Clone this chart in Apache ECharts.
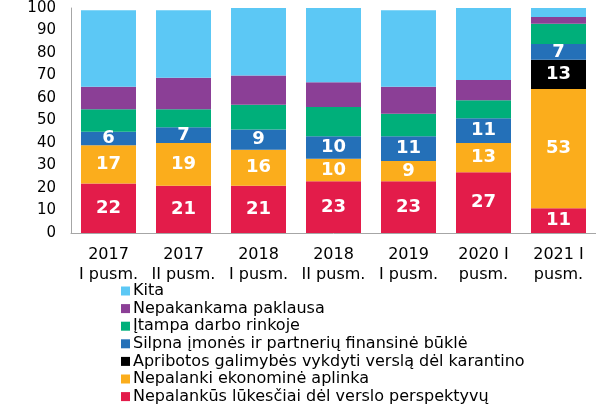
<!DOCTYPE html>
<html>
<head>
    <meta charset="UTF-8">
    <title>Veiksniai</title>
    <script src="https://cdn.jsdelivr.net/npm/echarts@6/dist/echarts.min.js"></script>
    <style>
        html, body { margin: 0; padding: 0; background: #fff; }
        #main { width: 596px; height: 408px; }
    </style>
</head>
<body>
    <div id="main"></div>
    <script type="text/javascript">
        // kategorijos (pusmečiai)
        var categories = ['2017\nI pusm.', '2017\nII pusm.', '2018\nI pusm.', '2018\nII pusm.', '2019\nI pusm.', '2020 I\npusm.', '2021 I\npusm.'];
        var yTicks = [0, 10, 20, 30, 40, 50, 60, 70, 80, 90, 100];

        // serijos nuo apačios į viršų
        var lukesciai = [22, 21, 21, 23, 23, 27, 11];
        var aplinka = [17, 19, 16, 10, 9, 13, 53];
        var karantinas = [null, null, null, null, null, null, 13];
        var bukle = [6, 7, 9, 10, 11, 11, 7];
        var itampa = [10, 8, 11, 13, 10, 8, 9];
        var paklausa = [10, 14, 13, 11, 12, 9, 3];
        var kita = [34, 30, 30, 33, 34, 32, 4];

        var names = ['Nepalankūs lūkesčiai dėl verslo perspektyvų', 'Nepalanki ekonominė aplinka', 'Apribotos galimybės vykdyti verslą dėl karantino',
            'Silpna įmonės ir partnerių finansinė būklė', 'Įtampa darbo rinkoje', 'Nepakankama paklausa', 'Kita'];
        var values = [lukesciai, aplinka, karantinas, bukle, itampa, paklausa, kita];
        var colors = ['#e31c4a', '#fbad1c', '#000000', '#2470b8', '#00af7a', '#8b3f96', '#5cc8f5'];
        var showLabel = [true, true, true, true, false, false, false];

        var series = [];
        for (var i = 0; i < names.length; i++) {
            series.push({
                name: names[i],
                type: 'bar',
                stack: 'total',
                barWidth: 55,
                data: values[i],
                itemStyle: { color: colors[i] },
                label: {
                    show: showLabel[i],
                    position: 'inside',
                    color: '#fff',
                    fontWeight: 'bold',
                    fontSize: 18,
                    fontFamily: 'DejaVu Sans'
                }
            });
        }

        var myChart = echarts.init(document.getElementById('main'));

        var option = {
            animation: false,
            color: colors,
            grid: {
                left: 71,
                right: 0,
                top: 8,
                bottom: 175
            },
            legend: {
                orient: 'vertical',
                left: 116,
                top: 278,
                height: 150,
                itemWidth: 9,
                itemHeight: 9,
                itemGap: 1.6,
                icon: 'rect',
                data: names.slice().reverse(),
                textStyle: {
                    fontFamily: 'DejaVu Sans',
                    fontSize: 16,
                    lineHeight: 16,
                    color: '#000',
                    padding: [0, 0, 0, -2]
                }
            },
            xAxis: {
                type: 'category',
                data: categories,
                axisTick: { show: false },
                axisLine: { lineStyle: { color: '#a6a6a6', width: 1 } },
                axisLabel: {
                    interval: 0,
                    margin: 12,
                    fontFamily: 'DejaVu Sans',
                    fontSize: 16,
                    lineHeight: 20,
                    color: '#000'
                }
            },
            yAxis: {
                type: 'value',
                min: yTicks[0],
                max: yTicks[yTicks.length - 1],
                interval: 10,
                splitLine: { show: false },
                axisTick: { show: false },
                axisLine: { show: true, lineStyle: { color: '#a6a6a6', width: 1 } },
                axisLabel: {
                    margin: 15,
                    fontFamily: 'DejaVu Sans',
                    fontSize: 15,
                    color: '#000'
                }
            },
            series: series
        };

        myChart.setOption(option);
    </script>
</body>
</html>
